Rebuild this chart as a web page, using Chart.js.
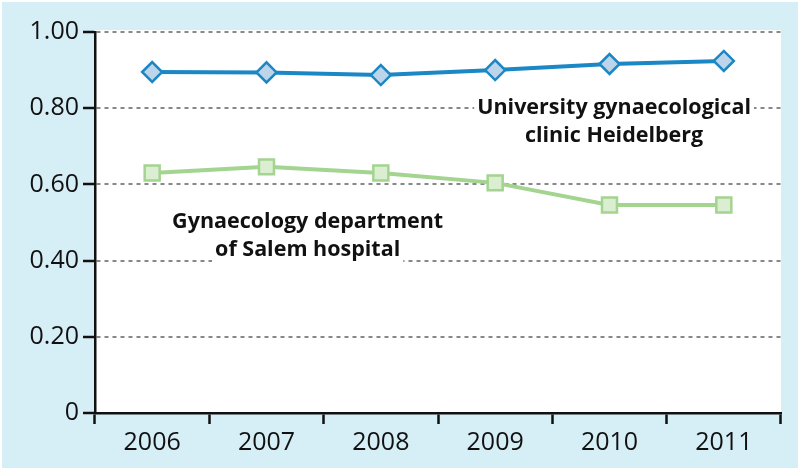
<!DOCTYPE html>
<html>
<head>
<meta charset="utf-8">
<script src="https://cdn.jsdelivr.net/npm/chart.js@4/dist/chart.umd.min.js"></script>
<style>
html,body{margin:0;padding:0;background:#fff;}
#wrap{width:800px;height:471px;}
</style>
</head>
<body>
<div id="wrap"><canvas id="c" width="800" height="471"></canvas></div>
<script>
const years = ["2006", "2007", "2008", "2009", "2010", "2011"];
const heidelberg = [0.895, 0.894, 0.887, 0.900, 0.916, 0.924];
const salem = [0.630, 0.646, 0.630, 0.604, 0.546, 0.546];
const yTickValues = [0, 0.2, 0.4, 0.6, 0.8, 1.0];
const yTickLabels = ["0", "0.20", "0.40", "0.60", "0.80", "1.00"];
const labelHeidelberg = ["University gynaecological", "clinic Heidelberg"];
const labelSalem = ["Gynaecology department", "of Salem hospital"];

const FONT = "'Open Sans', sans-serif";

const bgPlugin = {
  id: 'bg',
  beforeDraw(chart) {
    const ctx = chart.ctx, a = chart.chartArea;
    ctx.save();
    ctx.fillStyle = '#ffffff';
    ctx.fillRect(0, 0, chart.width, chart.height);
    ctx.fillStyle = '#d6eef6';
    ctx.fillRect(2, 2, chart.width - 4, chart.height - 5);
    ctx.fillStyle = '#ffffff';
    ctx.fillRect(a.left, a.top - 2, a.right - a.left, a.bottom - a.top + 2);
    ctx.restore();
  }
};

const annotations = [
  { lines: labelHeidelberg, x: 4.04, y: 0.785, lineGap: 28 },
  { lines: labelSalem, x: 1.36, y: 0.486, lineGap: 28 }
];

const textPlugin = {
  id: 'texts',
  afterDatasetsDraw(chart) {
    const ctx = chart.ctx;
    const xs = chart.scales.x, ys = chart.scales.y;
    ctx.save();
    ctx.font = "bold 21.5px " + FONT;
    ctx.textAlign = 'center';
    ctx.textBaseline = 'alphabetic';
    annotations.forEach(an => {
      const cx = xs.getPixelForValue(an.x);
      const by = ys.getPixelForValue(an.y);
      an.lines.forEach((t, i) => {
        const w = ctx.measureText(t).width;
        const yb = by + i * an.lineGap;
        ctx.fillStyle = '#ffffff';
        ctx.fillRect(cx - w / 2 - 3, yb - 18, w + 6, 25);
        ctx.fillStyle = '#111111';
        ctx.fillText(t, cx, yb);
      });
    });
    ctx.restore();
  }
};

new Chart(document.getElementById('c'), {
  type: 'line',
  data: {
    labels: years,
    datasets: [
      {
        data: heidelberg,
        borderColor: '#1b87c4',
        borderWidth: 4,
        pointStyle: 'rectRot',
        pointRadius: 10,
        pointHoverRadius: 10,
        pointBackgroundColor: '#bdd5ea',
        pointBorderColor: '#1b87c4',
        pointBorderWidth: 2.5,
        tension: 0
      },
      {
        data: salem,
        borderColor: '#a3d490',
        borderWidth: 4,
        pointStyle: 'rect',
        pointRadius: 10.6,
        pointHoverRadius: 10.6,
        pointBackgroundColor: '#dbeed2',
        pointBorderColor: '#a3d490',
        pointBorderWidth: 2.5,
        tension: 0
      }
    ]
  },
  options: {
    responsive: false,
    animation: false,
    devicePixelRatio: 1,
    layout: { padding: { left: 0, right: 19, top: 32, bottom: 0 } },
    plugins: { legend: { display: false }, tooltip: { enabled: false } },
    scales: {
      x: {
        offset: true,
        grid: {
          display: true,
          drawOnChartArea: false,
          drawTicks: true,
          tickLength: 11,
          tickColor: '#111',
          tickWidth: 2.5,
          offset: true
        },
        border: { display: true, color: '#111', width: 2.5 },
        ticks: { color: '#111', font: { family: FONT, size: 25 }, padding: 4 },
        afterFit(s) { s.height = 58; }
      },
      y: {
        min: 0, max: 1,
        afterBuildTicks(s) { s.ticks = yTickValues.map(v => ({ value: v })); },
        grid: {
          color: (c) => (c.tick && c.tick.value === 0) ? 'rgba(0,0,0,0)' : '#888888',
          lineWidth: 2,
          drawTicks: true,
          tickLength: 12,
          tickColor: '#111',
          tickWidth: 2.5
        },
        border: { display: true, color: '#111', width: 2.5, dash: [4, 4] },
        ticks: {
          color: '#111',
          font: { family: FONT, size: 25 },
          padding: 4,
          callback: (v) => yTickLabels[yTickValues.indexOf(Math.round(v * 10) / 10)]
        },
        afterFit(s) { s.width = 95; }
      }
    }
  },
  plugins: [bgPlugin, textPlugin]
});
</script>
</body>
</html>
